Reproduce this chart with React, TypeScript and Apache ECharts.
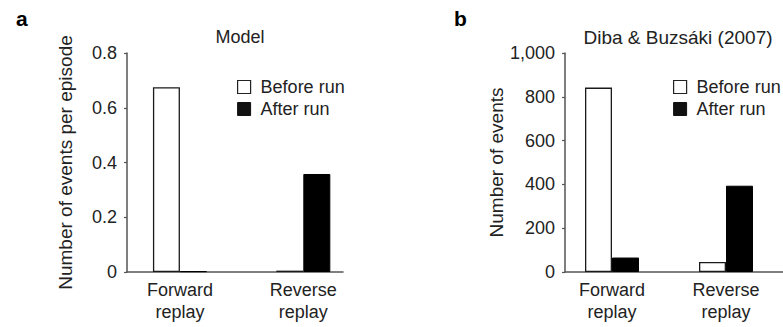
import React, { useEffect, useRef } from "react";
import * as echarts from "echarts";

const categories = ["Forward\nreplay", "Reverse\nreplay"];
const seriesNames = ["Before run", "After run"];
const modelBefore = [0.675, 0.005];
const modelAfter = [0.003, 0.358];
const dibaBefore = [842, 46];
const dibaAfter = [66, 394];
const modelTicks = { min: 0, max: 0.8, interval: 0.2 };
const dibaTicks = { min: 0, max: 1000, interval: 200 };

const FONT = "'Liberation Sans', Arial, Helvetica, sans-serif";
const TEXT = "#222";
const AXIS = "#555";

export default function App() {
  const ref = useRef<HTMLDivElement>(null);
  useEffect(() => {
    if (!ref.current) return;
    const chart = echarts.init(ref.current, null, { renderer: "svg" });
    const top = 53;
    const height = 219;
    const frameX = (gi: number) => ({
      gridIndex: gi,
      type: "value",
      min: 0,
      max: 1,
      axisLine: { show: true, lineStyle: { color: AXIS, width: 1.5 } },
      axisTick: { show: false },
      axisLabel: { show: false },
      splitLine: { show: false },
    });
    const frameY = (gi: number, t: any, name: string, gap: number, fmt: (v: number) => string) => ({
      gridIndex: gi,
      type: "value",
      min: t.min,
      max: t.max,
      interval: t.interval,
      name,
      nameLocation: "middle",
      nameGap: gap,
      nameTextStyle: { fontSize: 19, color: TEXT, fontFamily: FONT },
      axisLine: { show: true, lineStyle: { color: AXIS, width: 1.5 } },
      axisTick: { show: true, length: 3, lineStyle: { color: AXIS, width: 1.2 } },
      axisLabel: { fontSize: 18, color: TEXT, fontFamily: FONT, margin: 10, formatter: fmt },
      splitLine: { show: false },
    });
    const barX = (gi: number) => ({
      gridIndex: gi,
      type: "category",
      data: categories,
      axisLine: { show: false },
      axisTick: { show: false },
      axisLabel: { fontSize: 18, lineHeight: 22, color: TEXT, fontFamily: FONT, margin: 7 },
    });
    const barY = (gi: number, t: any) => ({
      gridIndex: gi,
      type: "value",
      min: t.min,
      max: t.max,
      interval: t.interval,
      show: false,
    });
    const beforeStyle = { color: "#ffffff", borderColor: "#1a1a1a", borderWidth: 1.3 };
    const afterStyle = { color: "#000000", borderColor: "#000000", borderWidth: 1 };
    const legendData = [
      { name: seriesNames[0], itemStyle: { color: "#fff", borderColor: "#222", borderWidth: 1.2 } },
      { name: seriesNames[1], itemStyle: { color: "#111", borderColor: "#111", borderWidth: 1 } },
    ];
    const legend = (left: number) => ({
      left,
      top: 73,
      orient: "vertical",
      itemWidth: 13,
      itemHeight: 13,
      itemGap: 4,
      icon: "rect",
      selectedMode: false,
      data: legendData,
      textStyle: { fontSize: 18, color: TEXT, fontFamily: FONT, padding: [0, 0, 0, 5] },
    });
    chart.setOption({
      animation: false,
      backgroundColor: "#ffffff",
      title: [
        { text: "a", left: 11, top: 3, textStyle: { fontSize: 21, fontWeight: "bold", color: "#000", fontFamily: FONT } },
        { text: "b", left: 449, top: 3, textStyle: { fontSize: 21, fontWeight: "bold", color: "#000", fontFamily: FONT } },
        { text: "Model", left: 235, top: 23, textAlign: "center", textStyle: { fontSize: 18, fontWeight: "normal", color: TEXT, fontFamily: FONT } },
        { text: "Diba & Buzsáki (2007)", left: 673, top: 23, textAlign: "center", textStyle: { fontSize: 19, fontWeight: "normal", color: TEXT, fontFamily: FONT } },
      ],
      legend: [legend(232), legend(668)],
      grid: [
        { left: 127, top, width: 216, height },
        { left: 118.25, top, width: 246.75, height },
        { left: 565, top, width: 230, height },
        { left: 555, top, width: 248, height },
      ],
      xAxis: [frameX(0), barX(1), frameX(2), barX(3)],
      yAxis: [
        frameY(0, modelTicks, "Number of events per episode", 52, (v: number) => (v === 0 ? "0" : v.toFixed(1))),
        barY(1, modelTicks),
        frameY(2, dibaTicks, "Number of events", 55, (v: number) => v.toLocaleString("en-US")),
        barY(3, dibaTicks),
      ],
      series: [
        { name: seriesNames[0], type: "bar", xAxisIndex: 1, yAxisIndex: 1, data: modelBefore, barWidth: 27, barGap: "0%", itemStyle: beforeStyle },
        { name: seriesNames[1], type: "bar", xAxisIndex: 1, yAxisIndex: 1, data: modelAfter, barWidth: 27, barGap: "0%", itemStyle: afterStyle },
        { name: seriesNames[0], type: "bar", xAxisIndex: 3, yAxisIndex: 3, data: dibaBefore, barWidth: 27, barGap: "0%", itemStyle: beforeStyle },
        { name: seriesNames[1], type: "bar", xAxisIndex: 3, yAxisIndex: 3, data: dibaAfter, barWidth: 27, barGap: "0%", itemStyle: afterStyle },
      ],
    });
    return () => chart.dispose();
  }, []);
  return (
    <div
      ref={ref}
      style={{ position: "absolute", left: 0, top: 0, width: 783, height: 327, background: "#fff" }}
    />
  );
}
